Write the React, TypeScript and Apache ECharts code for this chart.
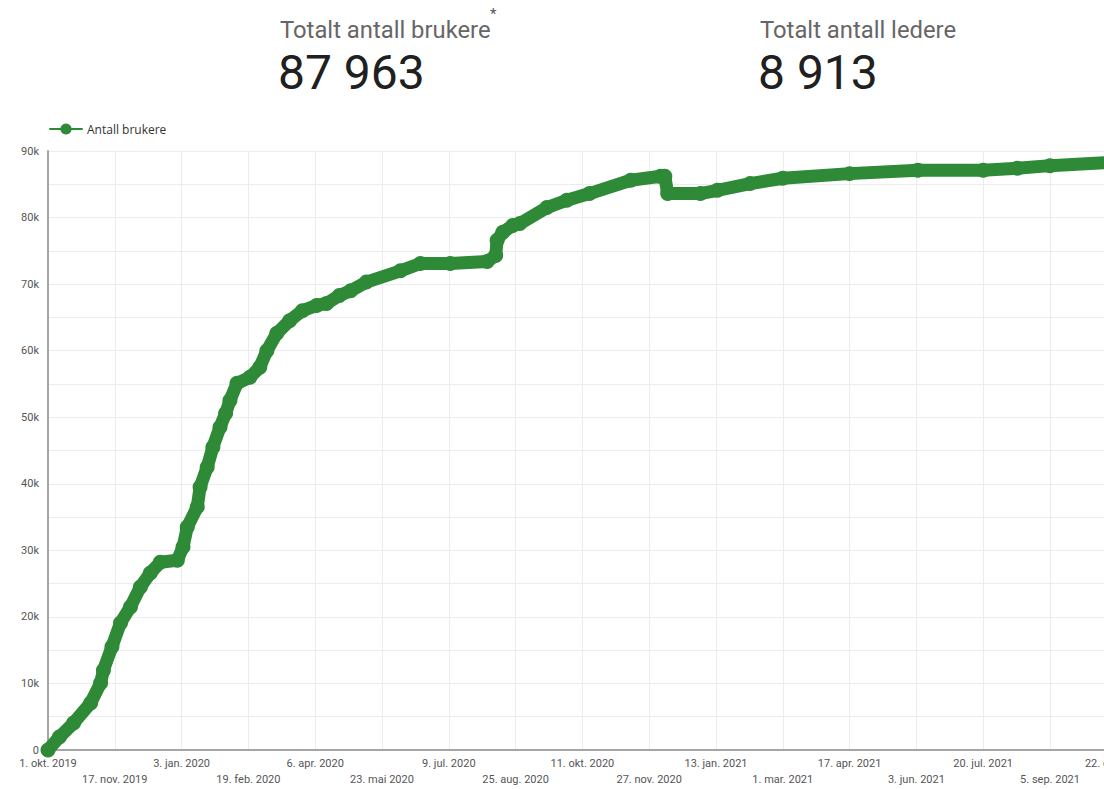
import React, { useEffect, useRef } from "react";
import * as echarts from "echarts";

const START_DATE = "2019-10-01";
const TICK_DAYS = 47;

const dates = [
  "2019-10-01", "2019-10-09", "2019-10-19", "2019-10-31", "2019-11-07", "2019-11-09",
  "2019-11-15", "2019-11-21", "2019-11-28", "2019-12-05", "2019-12-12", "2019-12-19",
  "2019-12-31", "2020-01-04", "2020-01-07", "2020-01-14", "2020-01-16", "2020-01-21",
  "2020-01-25", "2020-01-30", "2020-02-03", "2020-02-06", "2020-02-11", "2020-02-20",
  "2020-02-27", "2020-03-03", "2020-03-10", "2020-03-19", "2020-03-28", "2020-04-07",
  "2020-04-14", "2020-04-23", "2020-05-01", "2020-05-12", "2020-06-05", "2020-06-19",
  "2020-07-10", "2020-08-05", "2020-08-11", "2020-08-12", "2020-08-16", "2020-08-23",
  "2020-08-28", "2020-09-16", "2020-09-30", "2020-10-16", "2020-11-14", "2020-12-05",
  "2020-12-08", "2020-12-10", "2021-01-02", "2021-01-14", "2021-02-06", "2021-03-01",
  "2021-04-17", "2021-06-04", "2021-07-20", "2021-08-13", "2021-09-05", "2021-10-20",
];

const users = [
  0, 1950, 4050, 7060, 10060, 12000,
  15500, 19100, 21500, 24500, 26600, 28200,
  28500, 30500, 33500, 36500, 39500, 42500,
  45500, 48500, 50600, 52500, 55100, 56000,
  57500, 60000, 62600, 64500, 66000, 66800,
  67100, 68300, 69000, 70300, 72000, 73100,
  73100, 73400, 74300, 76600, 77800, 78800,
  79100, 81500, 82600, 83600, 85600, 86200,
  86200, 83600, 83600, 84100, 85100, 85900,
  86600, 87100, 87100, 87400, 87800, 88300,
];

const monthNames = ["jan.", "feb.", "mar.", "apr.", "mai", "jun.", "jul.", "aug.", "sep.", "okt.", "nov.", "des."];

const yTickLabels = ["0", "10k", "20k", "30k", "40k", "50k", "60k", "70k", "80k", "90k"];

const kpiTitles = ["Totalt antall brukere", "Totalt antall ledere"];
const kpiValues = ["87 963", "8 913"];

const DAY_MS = 86400000;
const startMs = Date.parse(START_DATE + "T00:00:00Z");
const dayIndex = (d: string) => Math.round((Date.parse(d + "T00:00:00Z") - startMs) / DAY_MS);

function fmtDay(v: number) {
  const dt = new Date(startMs + v * DAY_MS);
  return `${dt.getUTCDate()}. ${monthNames[dt.getUTCMonth()]} ${dt.getUTCFullYear()}`;
}

export default function App() {
  const ref = useRef<HTMLDivElement>(null);

  useEffect(() => {
    if (!ref.current) return;
    const chart = echarts.init(ref.current, undefined, { renderer: "svg" });
    const green = "#2f8a37";
    const seriesData = dates.map((d, i) => [dayIndex(d), users[i]]);

    chart.setOption({
      animation: false,
      textStyle: { fontFamily: "Roboto" },
      graphic: [
        {
          type: "text", left: 280, top: 18,
          style: { text: kpiTitles[0], font: "23.8px Roboto", fill: "#666666" },
        },
        {
          type: "text", left: 490, top: 6,
          style: { text: "*", font: "15px Roboto", fill: "#555555" },
        },
        {
          type: "text", left: 278, top: 48,
          style: { text: kpiValues[0], font: "48px Roboto", fill: "#202020" },
        },
        {
          type: "text", left: 760, top: 18,
          style: { text: kpiTitles[1], font: "23.8px Roboto", fill: "#666666" },
        },
        {
          type: "text", left: 758, top: 48,
          style: { text: kpiValues[1], font: "48px Roboto", fill: "#202020" },
        },
      ],
      legend: {
        left: 44,
        top: 118,
        itemWidth: 32,
        itemHeight: 14,
        itemGap: 10,
        textStyle: { fontSize: 12, color: "#333333", fontFamily: "Open Sans" },
        data: ["Antall brukere"],
      },
      grid: { left: 48, top: 151, bottom: 39, width: 799 * (1056 / 743), containLabel: false },
      xAxis: {
        type: "value",
        min: 0,
        max: 799,
        interval: TICK_DAYS,
        axisLine: { show: true, lineStyle: { color: "#a6a6a6", width: 2 } },
        axisTick: { show: false },
        splitLine: { show: true, lineStyle: { color: "#ececec", width: 1 } },
        axisLabel: {
          color: "#555555",
          fontSize: 11,
          lineHeight: 16,
          margin: 5,
          showMaxLabel: false,
          formatter: (v: number) => {
            if (v % TICK_DAYS !== 0) return "";
            const k = v / TICK_DAYS;
            return k % 2 === 1 ? "\n" + fmtDay(v) : fmtDay(v);
          },
        },
      },
      yAxis: {
        type: "value",
        min: 0,
        max: 90000,
        interval: 5000,
        axisLine: { show: true, lineStyle: { color: "#a6a6a6", width: 2 } },
        axisTick: { show: false },
        splitLine: { show: true, lineStyle: { color: "#ececec", width: 1 } },
        axisLabel: {
          color: "#555555",
          fontSize: 11,
          margin: 9,
          formatter: (v: number) => (v % 10000 === 0 ? yTickLabels[v / 10000] : ""),
        },
      },
      series: [
        {
          name: "Antall brukere",
          type: "line",
          data: seriesData,
          showSymbol: true,
          showAllSymbol: true,
          symbol: "circle",
          symbolSize: 15,
          lineStyle: { color: green, width: 13, cap: "round", join: "round" },
          itemStyle: { color: green },
          smooth: false,
        },
      ],
    });
    return () => chart.dispose();
  }, []);

  return (
    <div style={{ position: "fixed", left: 0, top: 0, width: 1104, height: 789, overflow: "hidden", background: "#fff" }}>
      <div ref={ref} style={{ width: 1250, height: 789 }} />
    </div>
  );
}
